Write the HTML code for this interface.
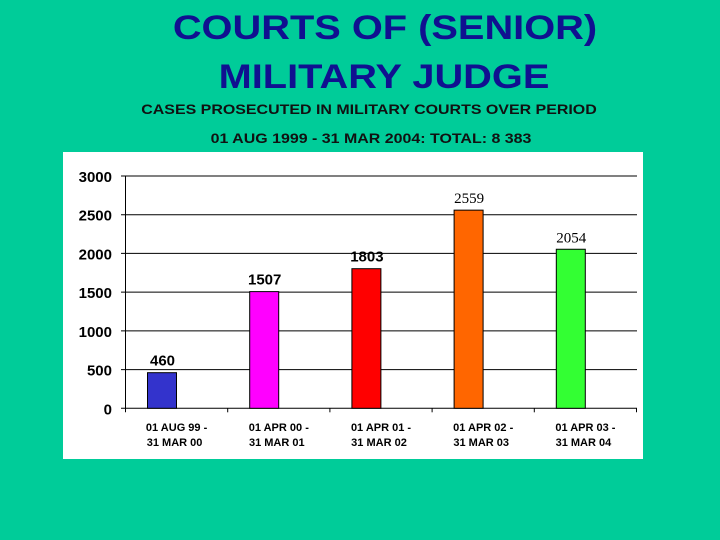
<!DOCTYPE html>
<html><head><meta charset="utf-8"><style>
body{margin:0;width:720px;height:540px;background:#00CC99;overflow:hidden;font-family:"Liberation Sans",Arial,sans-serif;position:relative}
.t{position:absolute;left:0;width:720px;text-align:center;color:#101090;font-size:34px;line-height:34px;font-weight:bold;transform:scaleX(1.17);transform-origin:360px 50%}
.s{position:absolute;left:0;width:720px;text-align:center;color:#111;font-size:14px;line-height:16px;font-weight:bold;transform:scaleX(1.14);transform-origin:360px 50%}
</style></head><body>
<div class="t" style="top:11px;left:25px">COURTS OF (SENIOR)</div>
<div class="t" style="top:60px;left:24px">MILITARY JUDGE</div>
<div class="s" style="top:101px;left:9px">CASES PROSECUTED IN MILITARY COURTS OVER PERIOD</div>
<div class="s" style="top:130px;left:11px">01 AUG 1999 - 31 MAR 2004: TOTAL: 8 383</div>
<svg id="c" width="720" height="540" style="position:absolute;left:0;top:0"></svg>
<script>
const categories1=["01 AUG 99 -","01 APR 00 -","01 APR 01 -","01 APR 02 -","01 APR 03 -"];
const categories2=["31 MAR 00","31 MAR 01","31 MAR 02","31 MAR 03","31 MAR 04"];
const values=[460,1507,1803,2559,2054];
const colors=["#3333CC","#FF00FF","#FF0000","#FF6600","#33FF33"];
const labelSerif=[false,false,false,true,true];
const ticks=[0,500,1000,1500,2000,2500,3000];
const NS="http://www.w3.org/2000/svg",svg=document.getElementById('c');
const x0=125.5,cw=102.2,y0=408.3,ytop=176,ymax=3000;
const y=v=>y0-(v/ymax)*(y0-ytop);
function mk(t,a,txt){const e=document.createElementNS(NS,t);for(const k in a)e.setAttribute(k,a[k]);if(txt!==undefined)e.textContent=txt;svg.appendChild(e);return e;}
const bg=mk('rect',{x:63,y:152,width:580,height:307,fill:'#fff'});


ticks.forEach(v=>{
 const g=mk('line',{x1:121,x2:637,y1:y(v),y2:y(v),stroke:'#000','stroke-width':1});
 
 
 const t=mk('text',{x:112,y:y(v)+6,'text-anchor':'end','font-size':15,'font-weight':'bold',fill:'#000'},v);
 
 
});
const ax=mk('line',{x1:x0,x2:x0,y1:ytop,y2:y0+4,stroke:'#000'});


values.forEach((v,i)=>{
 const tk=mk('line',{x1:x0+cw*(i+1),x2:x0+cw*(i+1),y1:y0,y2:y0+4,stroke:'#000'});
 
 
 const bx=x0+cw*i+22;
 const b=mk('rect',{x:bx,y:y(v),width:29,height:y0-y(v),fill:colors[i],stroke:'#000','stroke-width':1});
 
 
 const l=mk('text',{x:bx+15,y:y(v)-7,'text-anchor':labelSerif[i]?'start':'middle','font-size':15,'font-weight':labelSerif[i]?'normal':'bold','font-family':labelSerif[i]?'Liberation Serif, serif':'Liberation Sans, sans-serif',fill:'#000'},v);
 if(labelSerif[i])l.setAttribute('x',bx);
 
 
 const cx=x0+cw*i+cw/2;
 const c1=mk('text',{x:cx,y:431,'text-anchor':'middle','font-size':11,'font-weight':'bold',fill:'#000'},categories1[i]);
 
 
 const c2=mk('text',{x:cx-2,y:446,'text-anchor':'middle','font-size':11,'font-weight':'bold',fill:'#000'},categories2[i]);
 
 
});
</script>
</body></html>
